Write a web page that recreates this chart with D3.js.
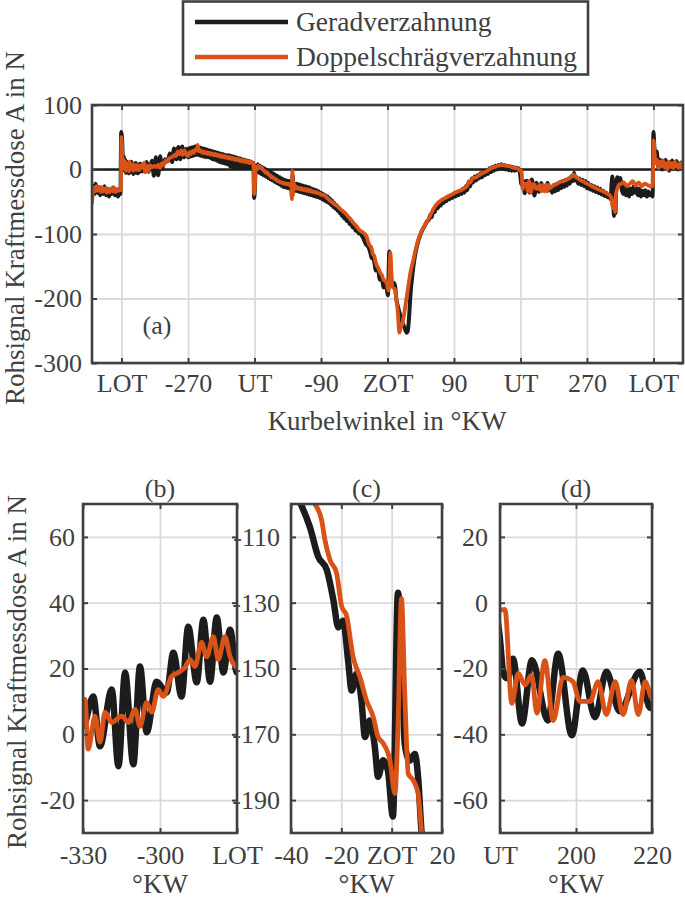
<!DOCTYPE html>
<html><head><meta charset="utf-8">
<script src="https://cdn.jsdelivr.net/npm/d3@7"></script>
<style>
body{margin:0;background:#fff}
svg{display:block}
text{font-family:"Liberation Serif","Times New Roman",serif;fill:#404040}
</style>
</head><body><svg id="chart" width="685" height="901"></svg>
<script>
// ---------------- DATA ----------------
const seriesNames = ["Geradverzahnung", "Doppelschrägverzahnung"];

// Geradverzahnung: [Kurbelwinkel °KW, Rohsignal N]
const geradData = [
[-400,-48],[-399,-25],[-397,-38],[-395,-22],[-393,-36],[-391,-27],[-389,-40],[-387,-28],[-385,-38],[-383,-26],[-381,-40],[-379,-30],[-377,-42],[-375,-32],[-373,-38],[-371,-28],[-369,-40],[-367,-33],[-365,-42],[-363,-36],[-361.5,-38],
[-360.5,58],[-359,40],[-358,5],
[-357,20],[-356,-2],[-355,15],[-354,-5],[-353,12],[-352,-3],[-351,10],[-350,-6],[-349,8],[-348,-4],[-347,12],[-346,-2],[-345,9],[-344,-7],[-343,6],[-342,-3],[-341,10],[-340,-5],[-339,8],[-338,-6],[-337,7],[-336,-4],[-335,9],[-334,-2],[-333,8],[-332,-3],[-331,6],
[-330,2.4],[-326,11.5],[-323.4,-3.6],[-318.8,13.6],[-316.2,-9.7],[-313.6,18.8],[-310.4,-9.1],[-307.8,20.6],[-305.2,0.6],[-301.3,16],[-297.4,12.7],[-294.8,24.8],[-291.6,11.5],[-289,32.7],[-285.7,15.8],[-283.1,34.8],[-280.5,16],[-277.9,35.5],[-275.3,18.8],[-272.7,31.8],[-270,18.8],
[-268.5,33],[-267,20],[-265.5,34],[-264,21],[-262.5,35],[-261,22],[-259.5,36],[-258,23],[-256.5,35],[-255,22],[-253.5,34],[-252,21],[-250.5,33],[-249,20],[-247.5,32],[-246,19],[-244.5,31],[-243,19],[-241.5,30],[-240,18],[-238.5,29],[-237,16],[-235.5,28],[-234,15],[-232.5,27],[-231,14],[-229.5,26],[-228,12],[-226.5,25],[-225,11],[-223.5,24],[-222,10],[-220.5,23],[-219,9],[-217.5,22],[-216,8],[-214.5,22],[-213,5],[-211.5,21],[-210,4],[-208.5,20],[-207,2],[-205.5,19],[-204,3],[-202.5,18],[-201,2],[-199.5,17],[-198,2],[-196.5,16],[-195,3],[-193.5,15],[-192,2],[-190.5,14],[-189,3],[-187.5,13],[-186,2],[-184.5,12],[-183,4],[-181.5,10],
[-180.5,-44],[-179.5,-30],[-178.5,5],
[-177,-2],[-175.5,8],[-174,-5],[-172.5,6],[-171,-7],[-169.5,4],[-168,-9],[-166.5,2],[-165,-11],[-163.5,0],[-162,-13],[-160.5,-2],[-159,-15],[-157.5,-4],[-156,-17],[-154.5,-6],[-153,-19],[-151.5,-8],[-150,-21],[-148.5,-10],[-147,-23],[-145.5,-12],[-144,-25],[-142.5,-14],[-141,-27],[-139.5,-16],[-138,-28],[-136.5,-17],[-135,-29],[-133.5,-18],[-132,-30],[-130.5,-20],[-129.5,-40],[-128.5,-8],[-127.5,-35],[-126,-22],[-124.5,-33],[-123,-22],[-121.5,-34],[-120,-23],[-118.5,-35],[-117,-24],[-115.5,-36],[-114,-25],[-112.5,-37],[-111,-26],[-109.5,-38],[-108,-27],[-106.5,-39],[-105,-28],[-103.5,-40],[-102,-30],[-100.5,-41],[-99,-31],[-97.5,-42],[-96,-32],[-94.5,-43],[-93,-34],[-91.5,-44],[-90,-36],[-88.5,-46],[-87,-38],[-85.5,-48],[-84,-40],[-82.5,-50],[-81,-42],[-79.5,-52],[-78,-45],[-76.5,-55],[-75,-48],[-73.5,-58],[-72,-52],[-70.5,-61],[-69,-55],[-67.5,-64],[-66,-59],[-64.5,-68],[-63,-64],[-61.5,-72],[-60,-69],[-58.5,-76],[-57,-73],[-55,-80],[-53,-78],[-51,-85],[-49,-83],[-47,-90],[-45,-89],[-43,-95],[-41,-94],[-39,-99],[-37.5,-98],
[-35.8,-100.6],[-32.5,-107],[-29.2,-116],[-25.8,-120],[-23.2,-129],[-21.2,-137.5],[-19.3,-135.5],[-17.3,-147.6],[-15.9,-156.7],[-13.9,-151.5],[-12,-159.7],[-10.6,-170.8],[-8.7,-165.8],[-6.7,-173.8],[-5.4,-182.9],[-3.4,-177.9],[-1.5,-181],[0.5,-195],[2.5,-127],[3.9,-143.5],[5.2,-173],[7.2,-178],[9.2,-176],[10.5,-183],[11.9,-200],
[14,-212],[17,-225],[20,-237],[23,-245],[26,-253],[27.5,-250],[29,-232],[31,-195],[34,-160],[37,-135],[40,-118],[43,-106],[46,-97],[50,-88],[54,-80],
[56,-78],[58,-70],[60,-74],[62,-62],[64,-66],[66,-56],[68,-60],[70,-52],[72,-56],[74,-48],[76,-52],[78,-45],[80,-49],[82,-42],[84,-46],[86,-40],[88,-44],[90,-37],[92,-42],[94,-35],[96,-40],[98,-33],[100,-38],[102,-30],[104,-36],[106,-26],[108,-32],[110,-20],[112,-26],[114,-14],[116,-20],[118,-11],[120,-17],[122,-9],[124,-14],[126,-6],[128,-12],[130,-4],[132,-9],[134,-1],[136,-7],[138,2],[140,-4],[142,4],[144,-2],[146,6],[148,0],[150,7],[152,1],[154,8],[156,1],[158,7],[160,0],[162,6],[164,-1],[166,5],[168,-2],[170,4],[172,-2],[174,3],[176,-1],[177.5,2],
[179.8,-9],[181,-22],[182,-23],[183.4,-17],[185.8,-36.7],[188.4,-17.5],[192.6,-35.8],[195.3,-15.5],[198.9,-40.3],[201.8,-20.6],[205,-34.8],[208,-21],[211.5,-33],[216.8,-21],[219.5,-32],[220,-31],
[221,-30],[223,-36],[225,-24],[227,-34],[229,-22],[231,-32],[233,-20],[235,-29],[237,-18],[239,-27],[241,-16],[243,-25],[245,-14],[247,-22],[249,-10],[251,-18],[252.5,-5],[254,-17],[256,-12],[258,-22],[260,-14],[262,-24],[264,-16],[266,-26],[268,-18],[270,-29],[272,-21],[274,-31],[276,-24],[278,-33],[280,-26],[282,-35],[284,-28],[286,-37],[288,-30],[290,-39],[292,-33],[294,-41],[296,-36],[298,-43],[300,-40],[302,-46],[303.5,-20],[304.5,-11],[305.5,-40],[306.5,-72],[307.5,-55],[308.5,-68],[309.5,-30],[311,-12],[313,-18],[315,-13],[317,-30],[319,-38],[321,-25],[323,-40],[325,-28],[327,-42],[329,-30],[331,-38],[333,-26],[335,-36],[337,-28],[339,-40],[341,-30],[343,-42],[345,-33],[347,-40],[349,-32],[351,-42],[353,-34],[355,-40],[357,-36],[358.8,-42],
[360,58],[361,40],[362,20],[363,15],[364.5,28],[366,5],[367.5,16],[369,2],[370.5,14],[372,0],[373.5,13],[375,3],[376.5,15],[378,2],[379.5,10],[381,-2],[382.5,12],[384,3],[385.5,14],[387,1],[388.5,11],[390,2],[391.5,13],[393,0],[394.5,9],[396,2],[397.5,11],[399,3],[400,6]
];

// Doppelschrägverzahnung: [Kurbelwinkel °KW, Rohsignal N]
const doppelData = [
[-400,-52],[-398,-28],[-396,-34],[-394,-26],[-392,-33],[-390,-27],[-388,-35],[-386,-28],[-384,-34],[-382,-29],[-380,-36],[-378,-30],[-376,-35],[-374,-29],[-372,-34],[-370,-28],[-368,-35],[-366,-30],[-364,-33],[-362,-30],[-361,-32],
[-360.2,50],[-359.2,30],[-358.3,5],
[-357,15],[-356,0],[-355,12],[-354,-2],[-353,10],[-352,0],[-351,8],[-350,-3],[-349,12],[-348,2],[-347,9],[-346,0],[-345,7],[-344,-2],[-343,8],[-342,1],[-341,6],[-340,-1],[-339,7],[-338,0],[-337,5],[-336,-1],[-335,6],[-334,2],[-333,7],[-332,3],
[-330,5.5],[-329.2,10.6],[-328,-4.5],[-325.3,5.5],[-323.4,-2.4],[-321.4,6.7],[-318.8,3.6],[-314.9,5.5],[-312.3,3.6],[-309.7,7.6],[-307.8,2.4],[-305.2,9.7],[-303.2,6.7],[-300.7,13.6],[-298.7,11.5],[-295.5,17.6],[-292.9,18.8],[-290.3,20.3],[-288.3,22.7],[-286.4,20.6],[-283.8,27.9],[-281.8,23.6],[-279.2,29.7],[-277.3,22.7],[-274.7,29.7],[-272.7,23.6],[-270,20.6],
[-268,27],[-266,24],[-264,29],[-262,26],[-260,31],[-258,30],[-257,38],[-255.5,28],[-253,30],[-251,26],[-249,28],[-247,25],[-245,27],[-243,24],[-241,26],[-239,23],[-237,25],[-235,22],[-233,24],[-231,21],[-229,23],[-227,20],[-225,22],[-223,19],[-221,21],[-219,18],[-217,20],[-215,17],[-213,19],[-211,16],[-209,18],[-207,15],[-205,17],[-203,14],[-201,16],[-199,13],[-197,15],[-195,12],[-193,14],[-191,11],[-189,13],[-187,10],[-185,12],[-183,9],[-181.5,10],
[-180.5,-38],[-179.5,-25],[-178.5,4],
[-177,0],[-175,6],[-173,2],[-171,4],[-169,0],[-167,-2],[-165,-5],[-163,-4],[-161,-8],[-159,-9],[-157,-12],[-155,-12],[-153,-15],[-151,-15],[-149,-18],[-147,-18],[-145,-20],[-143,-20],[-141,-22],[-139,-21],[-137,-23],[-135,-22],[-133,-24],[-131,-22],[-130,-24],[-129.5,-46],[-128.7,-2],[-128,-40],[-127,-20],[-125.5,-30],[-124,-26],[-122,-30],[-120,-28],[-118,-31],[-116,-29],[-114,-32],[-112,-30],[-110,-33],[-108,-31],[-106,-34],[-104,-32],[-102,-35],[-100,-34],[-98,-36],[-96,-35],[-94,-37],[-92,-37],[-90,-39],[-86,-40],[-82,-44],[-78,-48],[-74,-52],[-70,-55],[-66,-59],[-62,-63],[-58,-67],[-54,-72],[-50,-77],[-46,-83],[-42,-88],[-38,-94],[-34,-97],
[-30.5,-100],[-27.8,-105],[-26.5,-111],[-24.5,-117],[-21.9,-121],[-19.9,-131],[-17.9,-134],[-15.3,-146.6],[-12.6,-152.6],[-10,-159.7],[-7.3,-164.8],[-5.4,-170.8],[-3.4,-172.7],[-0.7,-177.9],[1.3,-188],[2.5,-168],[3.9,-128.8],[5.2,-157.6],[6.6,-182],[8.6,-184],[10.5,-188],[11.9,-200],
[14,-222],[16,-253],[18,-244],[20,-240],[22,-228],[25,-205],[28,-182],[31,-160],[35,-140],[40,-115],[45,-98],[50,-87],[55,-78],[60,-66],[65,-56],[70,-50],[75,-46],[80,-43],[85,-40],[90,-37],[95,-34],[100,-32],[105,-28],[108,-25],[110,-18],[112,-20],[115,-14],[120,-12],[125,-8],[130,-5],[135,-2],[140,2],[145,4],[150,6],[155,7],[160,6],[165,5],[170,3],[175,2],[178,0],
[179.5,-2.4],[181.3,-2],[183.1,-30.6],[184.8,-21.5],[186.6,-25],[188.3,-22],[189.7,-33.6],[191.8,-17.6],[194,-35.8],[196.6,-22.7],[199.2,-24],[201,-30],[203.7,-30],[205.8,-24],[208,-34],[210.3,-24],[212.4,-34],[214.6,-23.6],[216.4,-34],[218.2,-24],[220,-29],
[222,-27],[226,-24],[230,-22],[234,-19],[238,-18],[242,-16],[246,-14],[250,-10],[252,-8],[255,-12],[258,-14],[262,-17],[266,-19],[270,-22],[274,-24],[278,-27],[282,-29],[286,-31],[290,-33],[294,-35],[298,-38],[301,-40],[303,-45],[305,-60],[307,-48],[308,-66],[309,-40],[311,-30],[313,-24],[316,-22],[320,-20],[324,-26],[328,-22],[332,-18],[336,-25],[340,-20],[344,-26],[348,-22],[352,-24],[356,-26],[359,-26],
[360.3,45],[361.5,25],[363,10],[365,15],[367,2],[369,12],[371,5],[373,14],[375,3],[377,10],[379,0],[381,12],[383,4],[385,10],[387,2],[389,12],[391,5],[393,8],[395,0],[397,10],[400,3]
];

// Axis definitions
const mainXDomain = [-400, 400];
const mainYDomain = [-300, 100];
const mainXTicks = [-360, -270, -180, -90, 0, 90, 180, 270, 360];
const mainXTickLabels = ["LOT", "-270", "UT", "-90", "ZOT", "90", "UT", "270", "LOT"];
const mainYTicks = [-300, -200, -100, 0, 100];
const mainYTickLabels = ["-300", "-200", "-100", "0", "100"];

const panelTitles = ["(b)", "(c)", "(d)"];
const panelXDomains = [[-330, -270], [-40, 20], [180, 220]];
const panelYDomains = [[-30, 70], [-200, -100], [-70, 30]];
const panelXTicks = [[-330, -300, -270], [-40, -20, 0, 20], [180, 200, 220]];
const panelXTickLabels = [["-330", "-300", "LOT"], ["-40", "-20", "ZOT", "20"], ["UT", "200", "220"]];
const panelYTicks = [[-20, 0, 20, 40, 60], [-190, -170, -150, -130, -110], [-60, -40, -20, 0, 20]];
const panelYTickLabels = [["-20", "0", "20", "40", "60"], ["-190", "-170", "-150", "-130", "-110"], ["-60", "-40", "-20", "0", "20"]];

// ---------------- DRAWING ----------------
const svg = d3.select("#chart");
const colors = ["#1c1c1c", "#D95319"];
const frameColor = "#404040";
const gridColor = "#dadada";

function drawAxesBox(p, x, y, xLabels, yLabels, withZero) {
  const W = p.right - p.left, H = p.bottom - p.top;
  const g = svg.append("g");
  g.append("g").attr("transform", `translate(0,${p.bottom})`)
    .call(d3.axisBottom(x).tickValues(p.xTicks).tickSize(-H).tickFormat(""))
    .call(s => { s.select(".domain").remove(); s.selectAll("line").attr("stroke", gridColor).attr("stroke-width", 1.8); });
  g.append("g").attr("transform", `translate(${p.left},0)`)
    .call(d3.axisLeft(y).tickValues(p.yTicks).tickSize(-W).tickFormat(""))
    .call(s => { s.select(".domain").remove(); s.selectAll("line").attr("stroke", gridColor).attr("stroke-width", 1.8); });
  if (withZero) {
    g.append("line").attr("x1", p.left).attr("x2", p.right).attr("y1", y(0)).attr("y2", y(0))
      .attr("stroke", "#1c1c1c").attr("stroke-width", 2.6);
  }
  const cid = "clip" + p.id;
  svg.append("clipPath").attr("id", cid).append("rect")
    .attr("x", p.left).attr("y", p.top).attr("width", W).attr("height", H);
  const line = d3.line().x(d => x(d[0])).y(d => y(d[1])).curve(d3.curveMonotoneX);
  const dg = svg.append("g").attr("clip-path", `url(#${cid})`);
  [geradData, doppelData].forEach((data, i) => {
    dg.append("path").datum(data).attr("d", line).attr("fill", "none")
      .attr("stroke", colors[i]).attr("stroke-width", p.widths[i])
      .attr("stroke-linejoin", "round").attr("stroke-linecap", "round");
  });
  const ag = svg.append("g");
  const style = (s, fs) => {
    s.select(".domain").remove();
    s.selectAll("line").attr("stroke", frameColor).attr("stroke-width", 2);
    s.selectAll("text").attr("font-size", fs).attr("fill", "#404040")
      .attr("font-family", '"Liberation Serif","Times New Roman",serif');
  };
  ag.append("g").attr("transform", `translate(0,${p.bottom})`)
    .call(d3.axisBottom(x).tickValues(p.xTicks).tickFormat((d, i) => xLabels[i]).tickSizeInner(-5).tickSizeOuter(0).tickPadding(p.xPad))
    .call(s => style(s, p.fs));
  ag.append("g").attr("transform", `translate(0,${p.top})`)
    .call(d3.axisTop(x).tickValues(p.xTicks).tickFormat("").tickSizeInner(-5).tickSizeOuter(0))
    .call(s => style(s, p.fs));
  ag.append("g").attr("transform", `translate(${p.left},0)`)
    .call(d3.axisLeft(y).tickValues(p.yTicks).tickFormat((d, i) => yLabels[i]).tickSizeInner(-5).tickSizeOuter(0).tickPadding(p.yPad))
    .call(s => style(s, p.fs));
  ag.append("g").attr("transform", `translate(${p.right},0)`)
    .call(d3.axisRight(y).tickValues(p.yTicks).tickFormat("").tickSizeInner(-5).tickSizeOuter(0))
    .call(s => style(s, p.fs));
  ag.append("rect").attr("x", p.left).attr("y", p.top).attr("width", W).attr("height", H)
    .attr("fill", "none").attr("stroke", frameColor).attr("stroke-width", 2.6);
}

// main chart (a)
const main = { id: "a", left: 92, right: 683, top: 105, bottom: 363,
  xTicks: mainXTicks, yTicks: mainYTicks, xPad: 11, yPad: 10, fs: 26, widths: [4, 3.8] };
const mx = d3.scaleLinear().domain(mainXDomain).range([main.left, main.right]);
const my = d3.scaleLinear().domain(mainYDomain).range([main.bottom, main.top]);
drawAxesBox(main, mx, my, mainXTickLabels, mainYTickLabels, true);
svg.append("text").attr("x", 157).attr("y", 334).attr("text-anchor", "middle").attr("font-size", 26).text("(a)");
svg.append("text").attr("x", 387).attr("y", 430).attr("text-anchor", "middle").attr("font-size", 27).text("Kurbelwinkel in °KW");
svg.append("text").attr("transform", "translate(24,228) rotate(-90)").attr("text-anchor", "middle").attr("font-size", 27)
  .text("Rohsignal Kraftmessdose A in N");

// bottom panels (c) drawn before (b) so that panel (b)'s frame sits over (c)'s hidden minus signs
const panelBoxes = [[83, 237], [291, 442], [500, 652]];
const panelYPads = [8, 11, 12];
[1, 0, 2].forEach(i => {
  const bx = panelBoxes[i];
  const p = { id: "p" + i, left: bx[0], right: bx[1], top: 504, bottom: 833,
    xTicks: panelXTicks[i], yTicks: panelYTicks[i], xPad: 13, yPad: panelYPads[i], fs: 26, widths: [6.5, 4.8] };
  const x = d3.scaleLinear().domain(panelXDomains[i]).range([p.left, p.right]);
  const y = d3.scaleLinear().domain(panelYDomains[i]).range([p.bottom, p.top]);
  drawAxesBox(p, x, y, panelXTickLabels[i], panelYTickLabels[i], false);
  const cx = (p.left + p.right) / 2;
  svg.append("text").attr("x", cx).attr("y", 497).attr("text-anchor", "middle").attr("font-size", 26).text(panelTitles[i]);
  svg.append("text").attr("x", cx).attr("y", 893).attr("text-anchor", "middle").attr("font-size", 27).text("°KW");
});
svg.append("text").attr("transform", "translate(26,672) rotate(-90)").attr("text-anchor", "middle").attr("font-size", 27)
  .text("Rohsignal Kraftmessdose A in N");

// legend
const lg = svg.append("g");
lg.append("rect").attr("x", 183).attr("y", 1.5).attr("width", 405).attr("height", 73)
  .attr("fill", "#fff").attr("stroke", frameColor).attr("stroke-width", 2.6);
seriesNames.forEach((name, i) => {
  const yy = 22 + i * 35;
  lg.append("line").attr("x1", 195).attr("x2", 288).attr("y1", yy).attr("y2", yy)
    .attr("stroke", colors[i]).attr("stroke-width", 4.5);
  lg.append("text").attr("x", 296).attr("y", yy + 9).attr("font-size", 27.5).attr("fill", "#303030").text(name);
});
</script>
</body></html>
